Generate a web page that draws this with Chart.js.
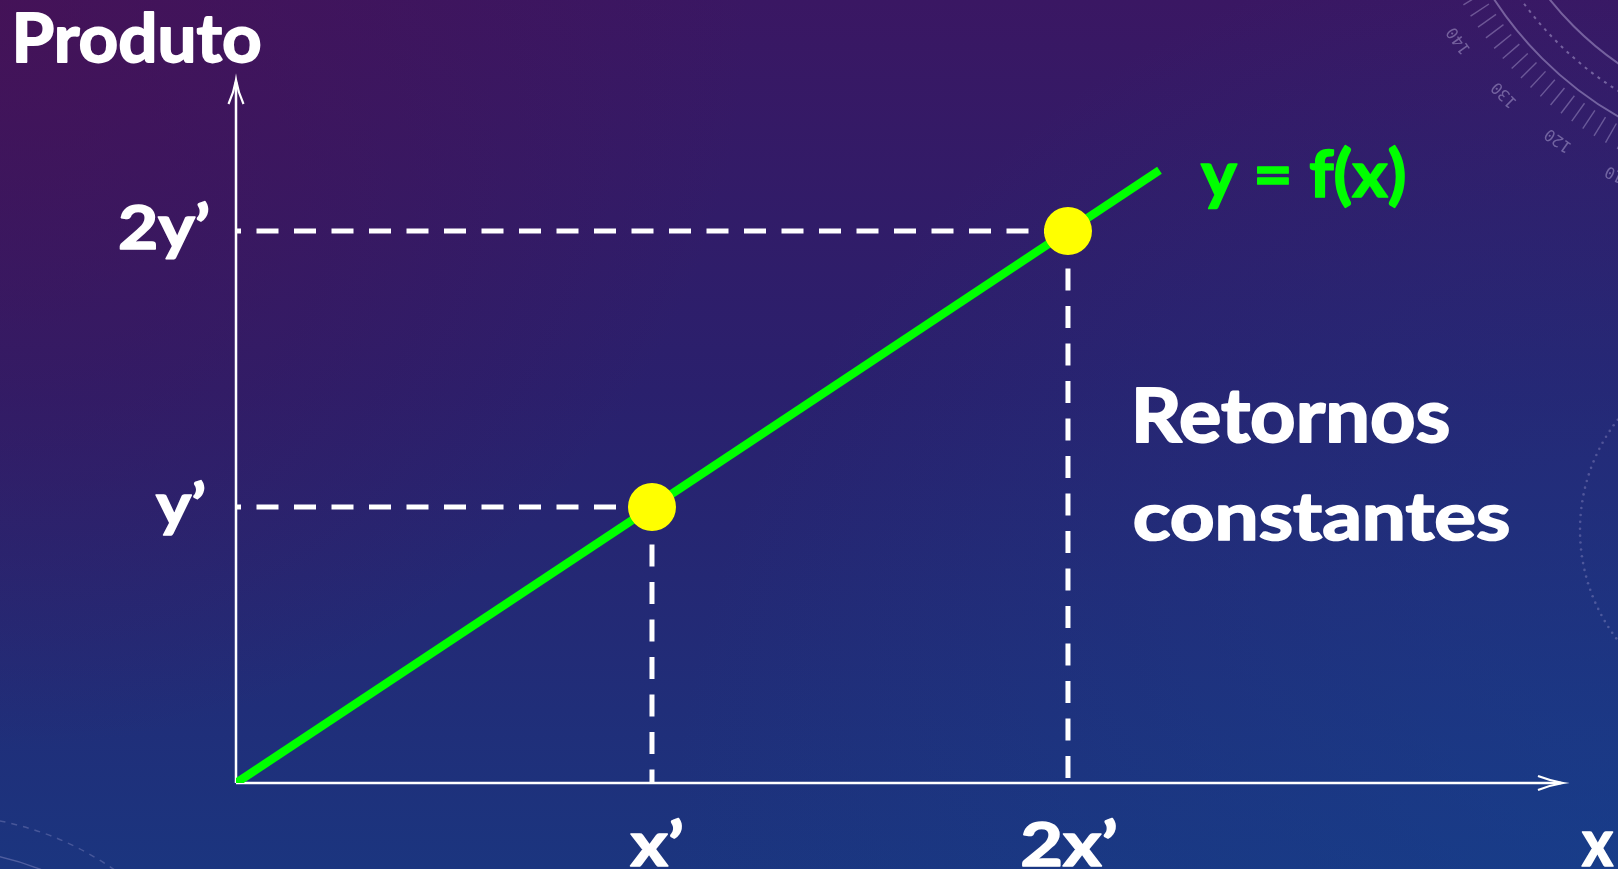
<!DOCTYPE html>
<html lang="pt">
<head>
<meta charset="utf-8">
<title>Retornos constantes</title>
<script src="https://cdn.jsdelivr.net/npm/chart.js@4/dist/chart.umd.min.js"></script>
<style>
  html, body { margin: 0; padding: 0; background: #231c68; overflow: hidden; }
  #wrap { width: 1618px; height: 869px; }
  canvas { display: block; }
</style>
</head>
<body>
<div id="wrap"><canvas id="c" width="1618" height="869"></canvas></div>
<script>
// Production function y = f(x): a straight line through the origin
const lineX = [0, 2.22];
const lineY = [0, 2.22];

// Highlighted points (x', y') and (2x', 2y')
const pointX = [1, 2];
const pointY = [1, 2];

// Axis tick labels
const xTickValues = [1, 2];
const xTickLabels = ['x\u2019', '2x\u2019'];
const yTickValues = [1, 2];
const yTickLabels = ['y\u2019', '2y\u2019'];

// Axis titles and annotations
const yAxisTitle = 'Produto';
const xAxisTitle = 'x';
const curveLabel = 'y = f(x)';
const noteLines = ['Retornos', 'constantes'];

const GREEN = '#00ff00';
const YELLOW = '#ffff00';
const WHITE = '#ffffff';
const FONT = 'Lato, "Open Sans", "DejaVu Sans", sans-serif';

// Draws heavy text so that its ink fills the given box (left/right, top/baseline)
function fitText(ctx, str, left, right, top, base, color) {
  ctx.save();
  ctx.font = 'bold 100px ' + FONT;
  ctx.textAlign = 'left';
  ctx.textBaseline = 'alphabetic';
  const m = ctx.measureText(str);
  const inkW = m.actualBoundingBoxLeft + m.actualBoundingBoxRight;
  const sx = (right - left) / inkW;
  const sy = (base - top) / m.actualBoundingBoxAscent;
  ctx.translate(left, base);
  ctx.scale(sx, sy);
  ctx.fillStyle = color;
  ctx.strokeStyle = color;
  ctx.lineJoin = 'round';
  ctx.lineWidth = 2.6;
  ctx.fillText(str, m.actualBoundingBoxLeft, 0);
  ctx.strokeText(str, m.actualBoundingBoxLeft, 0);
  ctx.restore();
}

// Background gradient and faint dial ornaments
const backdrop = {
  id: 'backdrop',
  beforeDraw(chart) {
    const ctx = chart.ctx;
    const W = chart.width, H = chart.height;
    ctx.save();
    const g = ctx.createLinearGradient(0, 0, 0, H);
    g.addColorStop(0, '#3a1763');
    g.addColorStop(0.45, '#2a206d');
    g.addColorStop(1, '#1b357f');
    ctx.fillStyle = g;
    ctx.fillRect(0, 0, W, H);

    const r1 = ctx.createRadialGradient(0, 0, 0, 0, 0, 750);
    r1.addColorStop(0, 'rgba(75,15,80,0.6)');
    r1.addColorStop(1, 'rgba(75,15,80,0)');
    ctx.fillStyle = r1;
    ctx.fillRect(0, 0, W, H);

    const r2 = ctx.createRadialGradient(W, H, 0, W, H, 950);
    r2.addColorStop(0, 'rgba(20,70,150,0.45)');
    r2.addColorStop(1, 'rgba(20,70,150,0)');
    ctx.fillStyle = r2;
    ctx.fillRect(0, 0, W, H);

    // dial in the top-right corner
    const cx = 1800, cy = -200;
    ctx.strokeStyle = 'rgba(205,195,235,0.42)';
    ctx.lineWidth = 2;
    ctx.beginPath(); ctx.arc(cx, cy, 365, 0, Math.PI); ctx.stroke();
    ctx.beginPath(); ctx.arc(cx, cy, 320, 0, Math.PI); ctx.stroke();
    ctx.setLineDash([3, 5]);
    ctx.beginPath(); ctx.arc(cx, cy, 343, 0, Math.PI); ctx.stroke();
    ctx.setLineDash([]);
    ctx.lineWidth = 1.4;
    ctx.strokeStyle = 'rgba(205,195,235,0.36)';
    const degOf = v => (125.4 + (v - 120) * 0.97) * Math.PI / 180;
    for (let v = 100; v <= 160; v += 2) {
      const a = degOf(v);
      ctx.beginPath();
      ctx.moveTo(cx + 372 * Math.cos(a), cy + 372 * Math.sin(a));
      ctx.lineTo(cx + 394 * Math.cos(a), cy + 394 * Math.sin(a));
      ctx.stroke();
    }
    ctx.fillStyle = 'rgba(205,195,235,0.42)';
    ctx.font = '16px "DejaVu Sans Mono", monospace';
    ctx.textAlign = 'center';
    ctx.textBaseline = 'middle';
    for (let v = 110; v <= 150; v += 10) {
      const a = degOf(v);
      ctx.save();
      ctx.translate(cx + 417 * Math.cos(a), cy + 417 * Math.sin(a));
      ctx.rotate(a + Math.PI / 2);
      ctx.fillText(String(v), 0, 0);
      ctx.restore();
    }

    // dotted arc at the right edge
    ctx.fillStyle = 'rgba(200,190,235,0.28)';
    for (let t = 0; t < 360; t += 2.2) {
      const a = t * Math.PI / 180;
      const px = 1760 + 180 * Math.cos(a), py = 530 + 180 * Math.sin(a);
      if (px < W + 2) { ctx.beginPath(); ctx.arc(px, py, 1.3, 0, Math.PI * 2); ctx.fill(); }
    }

    // dashed arcs in the bottom-left corner
    ctx.strokeStyle = 'rgba(200,190,235,0.25)';
    ctx.lineWidth = 1.5;
    ctx.setLineDash([6, 6]);
    ctx.beginPath(); ctx.arc(-60, 1120, 305, -Math.PI / 2, 0); ctx.stroke();
    ctx.setLineDash([]);
    ctx.strokeStyle = 'rgba(200,190,235,0.3)';
    ctx.beginPath(); ctx.arc(-60, 1120, 270, -Math.PI / 2, 0); ctx.stroke();
    ctx.restore();
  }
};

// Axes with arrow heads, drawn under the datasets; labels drawn on top
const arrowAxes = {
  id: 'arrowAxes',
  beforeDatasetsDraw(chart) {
    const ctx = chart.ctx;
    const xs = chart.scales.x, ys = chart.scales.y;
    const ox = xs.getPixelForValue(0), oy = ys.getPixelForValue(0);
    const area = chart.chartArea;
    ctx.save();
    ctx.strokeStyle = WHITE;
    ctx.lineWidth = 2.5;
    ctx.lineCap = 'butt';
    ctx.beginPath();
    ctx.moveTo(ox, oy); ctx.lineTo(area.right - 2, oy);
    ctx.moveTo(ox, oy); ctx.lineTo(ox, area.top + 2);
    ctx.stroke();
    ctx.lineJoin = 'miter';
    ctx.lineWidth = 2.2;
    // x arrow
    ctx.beginPath();
    ctx.moveTo(area.right - 25, oy - 7);
    ctx.quadraticCurveTo(area.right - 12, oy - 2, area.right, oy);
    ctx.quadraticCurveTo(area.right - 12, oy + 2, area.right - 25, oy + 7);
    ctx.stroke();
    // y arrow
    ctx.beginPath();
    ctx.moveTo(ox - 7.5, area.top + 24);
    ctx.quadraticCurveTo(ox - 2, area.top + 12, ox, area.top);
    ctx.quadraticCurveTo(ox + 2, area.top + 12, ox + 7.5, area.top + 24);
    ctx.stroke();
    ctx.restore();
  },
  afterDatasetsDraw(chart) {
    const ctx = chart.ctx;
    const xs = chart.scales.x, ys = chart.scales.y;
    const ox = xs.getPixelForValue(0), oy = ys.getPixelForValue(0);

    // tick labels on the x axis
    const xBox = { 'x\u2019': [51, 4], '2x\u2019': [93, 1] };
    xTickValues.forEach((v, i) => {
      const lab = xTickLabels[i];
      const [w, dx] = xBox[lab] || [60, 0];
      const c = xs.getPixelForValue(v) + dx;
      const base = oy + 83;
      fitText(ctx, lab, c - w / 2, c + w / 2, base - 48, base, WHITE);
    });

    // tick labels on the y axis
    const yBox = { 'y\u2019': [48, 32, 44], '2y\u2019': [88, 28, 47] };
    yTickValues.forEach((v, i) => {
      const lab = yTickLabels[i];
      const [w, gap, h] = yBox[lab] || [60, 30, 46];
      const right = ox - gap;
      const base = ys.getPixelForValue(v) + 18;
      fitText(ctx, lab, right - w, right, base - h, base, WHITE);
    });

    // axis titles
    fitText(ctx, yAxisTitle, 17, 260, 12, 62, WHITE);
    fitText(ctx, xAxisTitle, 1582, 1613, oy + 48, oy + 83, WHITE);

    // curve label and note
    fitText(ctx, curveLabel, 1201, 1404, 145, 197, GREEN);
    fitText(ctx, noteLines[0], 1137, 1448, 388, 442, WHITE);
    fitText(ctx, noteLines[1], 1135, 1508, 495, 540, WHITE);
  }
};

const guideStyle = {
  type: 'scatter',
  showLine: true,
  borderColor: WHITE,
  borderWidth: 5,
  borderDash: [22, 15.5],
  borderCapStyle: 'butt',
  pointRadius: 0,
  order: 3
};

const guides = [];
pointX.forEach((px, i) => {
  guides.push(Object.assign({}, guideStyle, {
    label: 'h' + i,
    borderDashOffset: 17,
    data: [{ x: 0, y: pointY[i] }, { x: px, y: pointY[i] }]
  }));
  guides.push(Object.assign({}, guideStyle, {
    label: 'v' + i,
    borderDashOffset: 0,
    data: [{ x: px, y: pointY[i] }, { x: px, y: 0 }]
  }));
});

function build() {
  new Chart(document.getElementById('c'), {
    type: 'scatter',
    data: {
      datasets: [
        ...guides,
        {
          label: curveLabel,
          showLine: true,
          data: lineX.map((x, i) => ({ x, y: lineY[i] })),
          borderColor: GREEN,
          borderWidth: 8.5,
          borderCapStyle: 'butt',
          pointRadius: 0,
          order: 2
        },
        {
          label: 'pontos',
          showLine: false,
          data: pointX.map((x, i) => ({ x, y: pointY[i] })),
          backgroundColor: YELLOW,
          borderWidth: 0,
          pointRadius: 24,
          pointHoverRadius: 24,
          order: 1
        }
      ]
    },
    options: {
      responsive: false,
      animation: false,
      events: [],
      layout: { padding: { left: 236, right: 55, top: 80, bottom: 86 } },
      scales: {
        x: { type: 'linear', display: false, min: 0, max: 3.19 },
        y: { type: 'linear', display: false, min: 0, max: 2.547 }
      },
      plugins: {
        legend: { display: false },
        tooltip: { enabled: false }
      }
    },
    plugins: [backdrop, arrowAxes]
  });
}

if (document.fonts && document.fonts.load) {
  document.fonts.load('bold 100px Lato').then(build, build);
} else {
  build();
}
</script>
</body>
</html>
